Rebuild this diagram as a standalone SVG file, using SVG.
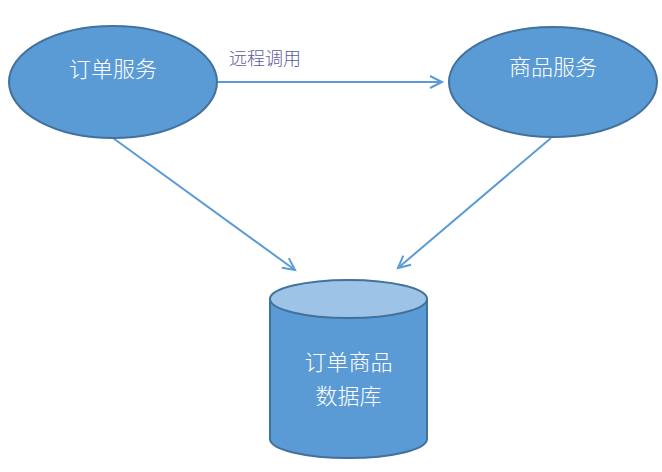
<svg xmlns="http://www.w3.org/2000/svg" width="662" height="472" viewBox="0 0 662 472">
<style>
.node{fill:#5B9BD5;stroke:#41719C;stroke-width:2}
.top{fill:#9DC3E6;stroke:#41719C;stroke-width:2}
.lbl{font-family:"Noto Sans CJK SC","Liberation Sans",sans-serif;font-size:22px;font-weight:300;fill:#FFFFFF;text-anchor:middle}
.edge{stroke:#5B9BD5;stroke-width:2;fill:none}
.elbl{font-family:"Noto Sans CJK SC","Liberation Sans",sans-serif;font-size:18px;font-weight:300;fill:#5B5BA0}
</style>
<defs>
<marker id="arr" markerWidth="16" markerHeight="14" refX="13" refY="7" orient="auto" markerUnits="userSpaceOnUse">
<path d="M1,1 L13,7 L1,13" fill="none" stroke="#5B9BD5" stroke-width="2"/>
</marker>
</defs>
<rect width="662" height="472" fill="#FFFFFF"/>
<g id="connectors">
<line class="edge" x1="218" y1="82" x2="442" y2="82" marker-end="url(#arr)"/>
<line class="edge" x1="113" y1="138" x2="295" y2="270" marker-end="url(#arr)"/>
<line class="edge" x1="551" y1="138" x2="398" y2="268" marker-end="url(#arr)"/>
<text class="elbl" x="229" y="65">远程调用</text>
</g>
<g id="order-service">
<ellipse class="node" cx="113" cy="82" rx="104" ry="56"/>
<text class="lbl" x="113" y="77">订单服务</text>
</g>
<g id="product-service">
<ellipse class="node" cx="553" cy="82" rx="104" ry="55"/>
<text class="lbl" x="553" y="75">商品服务</text>
</g>
<g id="database">
<path class="node" d="M270,299 L270,439 A78.5,19 0 0 0 427,439 L427,299"/>
<ellipse class="top" cx="348.5" cy="299" rx="78.5" ry="19"/>
<text class="lbl" x="348.5" y="370">订单商品</text>
<text class="lbl" x="348.5" y="404">数据库</text>
</g>
</svg>
